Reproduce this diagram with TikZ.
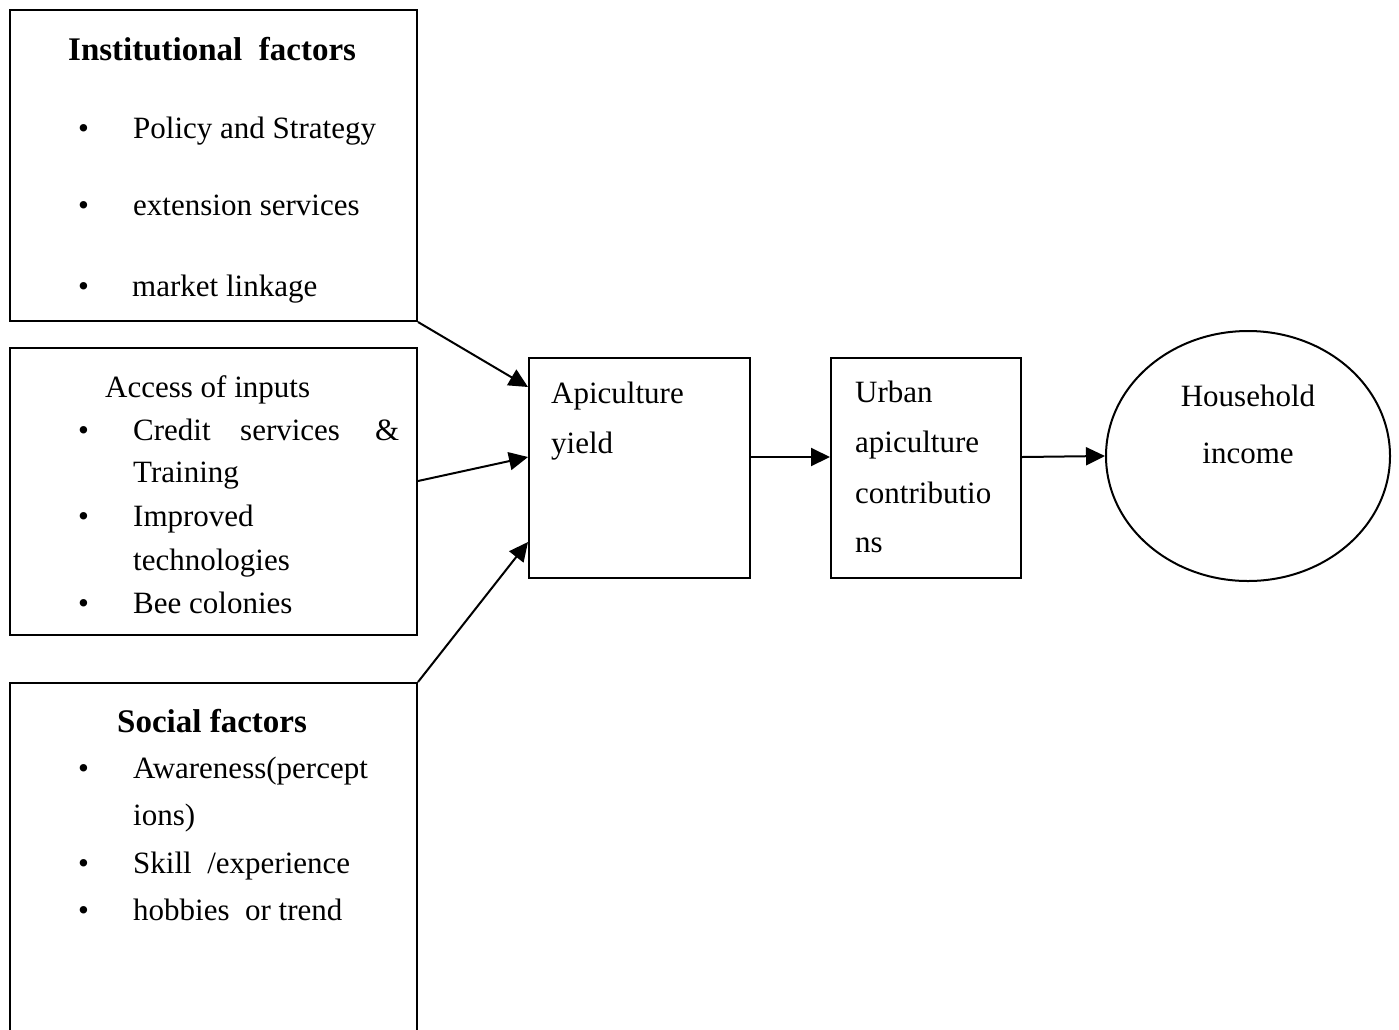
\documentclass[tikz,border=0pt]{standalone}
\usepackage{fontspec}
\setmainfont{Liberation Serif}
\usetikzlibrary{arrows.meta,calc,shapes.geometric}
\begin{document}
\begin{tikzpicture}[x=1pt,y=-1pt,
  box/.style={draw,line width=2pt,rectangle,inner sep=0pt},
  txt/.style={anchor=base west,inner sep=0pt,font=\fontsize{31}{31}\selectfont},
  ctxt/.style={anchor=base,inner sep=0pt,font=\fontsize{31}{31}\selectfont},
  ttl/.style={anchor=base west,inner sep=0pt,font=\fontsize{33}{33}\selectfont\bfseries},
  conn/.style={line width=2pt,-{Triangle[length=19pt,width=18pt]}}]
\clip (0,0) rectangle (1399,1029);
\fill[white] (0,0) rectangle (1399,1029);
% boxes
\node[box,minimum width=407pt,minimum height=311pt] (inst) at (213.5,165.5) {};
\node[box,minimum width=407pt,minimum height=287pt] (acc) at (213.5,491.5) {};
\node[box,minimum width=407pt,minimum height=387pt] (soc) at (213.5,876.5) {};
\node[box,minimum width=221pt,minimum height=220pt] (apic) at (639.5,468) {};
\node[box,minimum width=190pt,minimum height=220pt] (urban) at (926,468) {};
\node[draw,line width=2pt,ellipse,inner sep=0pt,minimum width=284pt,minimum height=250pt] (hh) at (1248,456) {};
% institutional
\node[ttl] (t1) at (68,60) {Institutional\ \ factors};
\node[txt] (b1) at (78,138) {•};
\node[txt] (i1) at (133,138) {Policy and Strategy};
\node[txt] (b2) at (78,215) {•};
\node[txt] (i2) at (133,215) {extension services};
\node[txt] (b3) at (78,296) {•};
\node[txt] (i3) at (132,296) {market linkage};
% access
\node[txt] (t2) at (105,397) {Access of inputs};
\node[txt] (b4) at (78,440) {•};
\node[txt] (a1) at (133,440) {Credit};
\node[txt] (a2) at (240,440) {services};
\node[txt] (a3) at (375,440) {\&};
\node[txt] (a4) at (133,482) {Training};
\node[txt] (b5) at (78,526) {•};
\node[txt] (a5) at (133,526) {Improved};
\node[txt] (a6) at (133,570) {technologies};
\node[txt] (b6) at (78,613) {•};
\node[txt] (a7) at (133,613) {Bee colonies};
% social
\node[ttl] (t3) at (117,732) {Social factors};
\node[txt] (b7) at (78,778) {•};
\node[txt] (s1) at (133,778) {Awareness(percept};
\node[txt] (s2) at (133,825) {ions)};
\node[txt] (b8) at (78,873) {•};
\node[txt] (s3) at (133,873) {Skill\ \ /experience};
\node[txt] (b9) at (78,920) {•};
\node[txt] (s4) at (133,920) {hobbies\ \ or trend};
% middle
\node[txt] (p1) at (551,403) {Apiculture};
\node[txt] (p2) at (551,453) {yield};
\node[txt] (u1) at (855,402) {Urban};
\node[txt] (u2) at (855,452) {apiculture};
\node[txt] (u3) at (855,503) {contributio};
\node[txt] (u4) at (855,552) {ns};
\node[ctxt] (h1) at (1248,406) {Household};
\node[ctxt] (h2) at (1248,463) {income};
% connectors
\draw[conn] (inst.south east) -- ($(apic.north west)+(0,30)$);
\draw[conn] ($(acc.east)+(0,-10.5)$) -- ($(apic.west)+(0,-11)$);
\draw[conn] (soc.north east) -- ($(apic.south west)+(0,-37)$);
\draw[conn] ($(apic.east)+(0,-11)$) -- ($(urban.west)+(0,-11)$);
\draw[conn] ($(urban.east)+(0,-11)$) -- (hh.west);
\end{tikzpicture}
\end{document}
